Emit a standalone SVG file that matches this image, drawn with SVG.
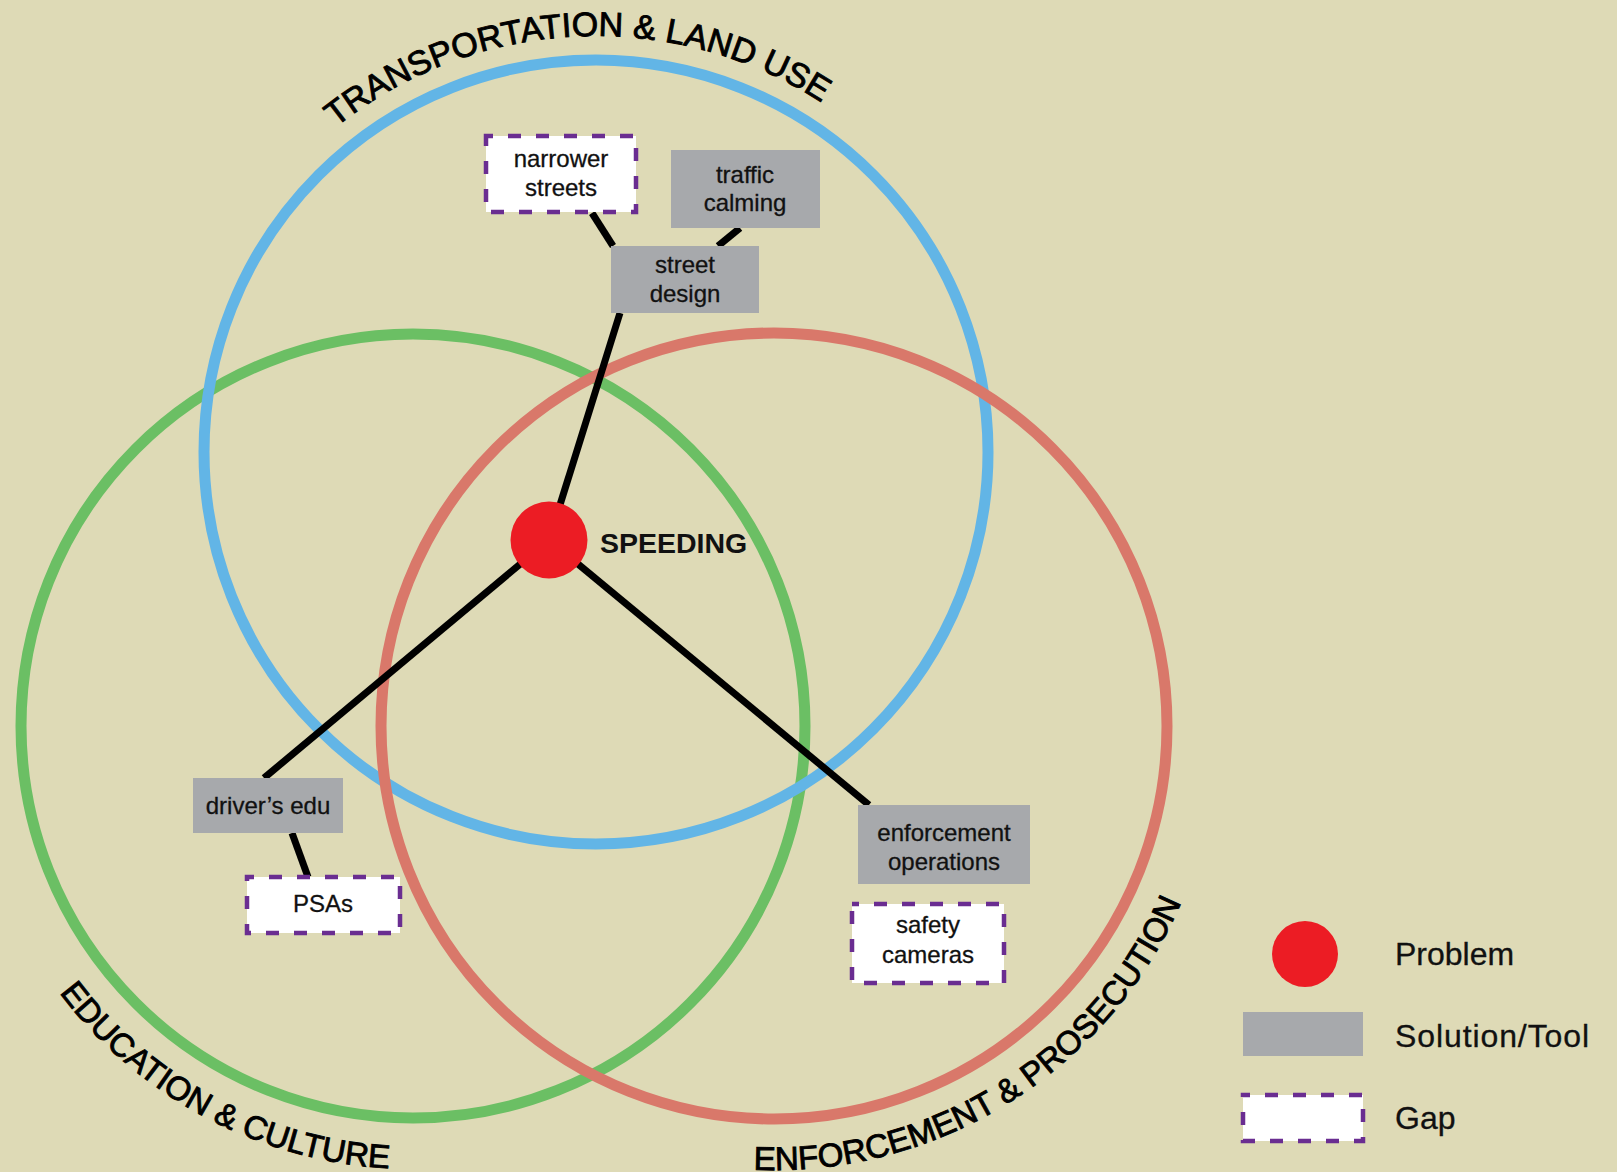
<svg xmlns="http://www.w3.org/2000/svg" width="1617" height="1172" viewBox="0 0 1617 1172">
  <style>
    .ring { fill: none; stroke-width: 11; }
    .conn { stroke: #000; stroke-width: 7; fill: none; }
    .tool { fill: #A7A9AC; }
    .gap { fill: #FFFFFF; stroke: #6A2D91; stroke-width: 4.5; stroke-dasharray: 13 15; stroke-dashoffset: 6; }
    .nt { font-family: "Liberation Sans", Arial, sans-serif; font-size: 24px; fill: #111; stroke: #111; stroke-width: 0.3; text-anchor: middle; }
    .arc { font-family: "Liberation Sans", Arial, sans-serif; fill: #000; stroke: #000; stroke-width: 0.9; }
    .leg { font-family: "Liberation Sans", Arial, sans-serif; font-size: 32px; fill: #111; stroke: #111; stroke-width: 0.3; }
  </style>
  <defs>
    <path id="pBlue" d="M 180 452 A 416 416 0 0 1 1012 452"/>
    <path id="pGreen" d="M -30 726 A 443 443 0 0 0 856 726"/>
    <path id="pRed" d="M 330 726 A 444 444 0 0 0 1218 726"/>
  </defs>
  <rect x="0" y="0" width="1617" height="1172" fill="#DEDAB6"/>

  <g id="circles">
    <circle id="circle-education" class="ring" cx="413" cy="726" r="392" stroke="#6BBF64"/>
    <circle id="circle-transportation" class="ring" cx="596" cy="452" r="392" stroke="#62B5E6"/>
    <circle id="circle-enforcement" class="ring" cx="774" cy="726" r="393" stroke="#D9786A"/>
  </g>

  <g id="circle-labels">
    <text class="arc" font-size="34"><textPath href="#pBlue" startOffset="632" text-anchor="middle">TRANSPORTATION &amp; LAND USE</textPath></text>
    <text class="arc" font-size="33"><textPath href="#pGreen" startOffset="479" text-anchor="middle">EDUCATION &amp; CULTURE</textPath></text>
    <text class="arc" font-size="33"><textPath href="#pRed" startOffset="945" text-anchor="middle">ENFORCEMENT &amp; PROSECUTION</textPath></text>
  </g>

  <g id="connectors">
    <line class="conn" x1="592" y1="213" x2="613" y2="246"/>
    <line class="conn" x1="740" y1="228" x2="718" y2="246"/>
    <line class="conn" x1="620" y1="313" x2="549" y2="540"/>
    <line class="conn" x1="549" y1="540" x2="264" y2="778"/>
    <line class="conn" x1="549" y1="540" x2="869" y2="805"/>
    <line class="conn" x1="292" y1="833" x2="308" y2="877"/>
  </g>

  <g id="node-speeding">
    <circle cx="549" cy="540" r="38.5" fill="#EC1C24"/>
    <text x="600" y="553" font-family="Liberation Sans, Arial, sans-serif" font-size="28.5" font-weight="bold" fill="#111">SPEEDING</text>
  </g>

  <g id="node-narrower-streets">
    <rect class="gap" x="486" y="136" width="150" height="76"/>
    <text class="nt" x="561" y="167">narrower</text>
    <text class="nt" x="561" y="196">streets</text>
  </g>

  <g id="node-traffic-calming">
    <rect class="tool" x="671" y="150" width="149" height="78"/>
    <text class="nt" x="745" y="183">traffic</text>
    <text class="nt" x="745" y="211">calming</text>
  </g>

  <g id="node-street-design">
    <rect class="tool" x="611" y="246" width="148" height="67"/>
    <text class="nt" x="685" y="273">street</text>
    <text class="nt" x="685" y="302">design</text>
  </g>

  <g id="node-drivers-edu">
    <rect class="tool" x="193" y="778" width="150" height="55"/>
    <text class="nt" x="268" y="814">driver’s edu</text>
  </g>

  <g id="node-psas">
    <rect class="gap" x="247" y="877" width="153" height="56"/>
    <text class="nt" x="323" y="912">PSAs</text>
  </g>

  <g id="node-enforcement-operations">
    <rect class="tool" x="858" y="805" width="172" height="79"/>
    <text class="nt" x="944" y="841">enforcement</text>
    <text class="nt" x="944" y="870">operations</text>
  </g>

  <g id="node-safety-cameras">
    <rect class="gap" x="852" y="904" width="152" height="79"/>
    <text class="nt" x="928" y="933">safety</text>
    <text class="nt" x="928" y="963">cameras</text>
  </g>

  <g id="legend">
    <circle cx="1305" cy="954" r="33" fill="#EC1C24"/>
    <text class="leg" x="1395" y="965">Problem</text>
    <rect class="tool" x="1243" y="1012" width="120" height="44"/>
    <text class="leg" x="1395" y="1047" letter-spacing="0.9">Solution/Tool</text>
    <rect class="gap" x="1243" y="1095" width="120" height="46"/>
    <text class="leg" x="1395" y="1129">Gap</text>
  </g>
</svg>
